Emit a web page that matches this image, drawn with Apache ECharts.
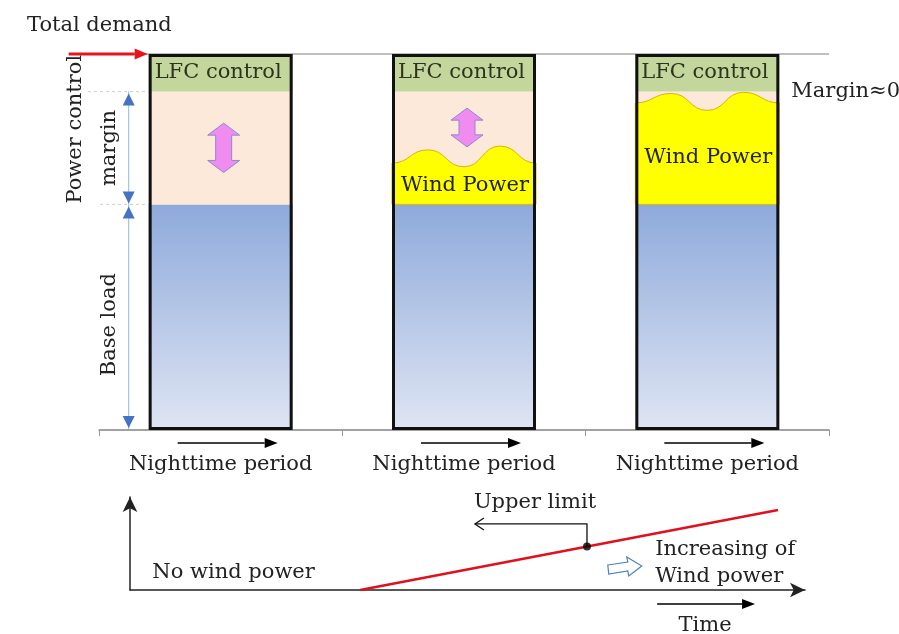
<!DOCTYPE html>
<html>
<head>
<meta charset="utf-8">
<title>Power control margin and wind power</title>
<script src="https://cdn.jsdelivr.net/npm/echarts@6/dist/echarts.min.js"></script>
<style>
  html, body { margin: 0; padding: 0; background: #fff; }
  #main { width: 899px; height: 634px; }
</style>
</head>
<body>
<div id="main"></div>
<script>
// three night periods, wind power growing from left to right
const periods = ['Nighttime period', 'Nighttime period', 'Nighttime period'];
// stacked parts of each bar (% of total demand)
const baseLoad = [60, 60, 60];
const controlMargin = [30, 30, 30];
const lfcControl = [10, 10, 10];
const totalDemand = [100, 100, 100];
// top edge of wind power block, sampled evenly across the bar (null = no wind)
const windTop = [
  null,
  [71, 74.5, 70, 75.5, 71],
  [87, 89.5, 85, 89.8, 87]
];
// pink double arrow = remaining margin (low / high end)
const marginLow = [68.5, 75.3, null];
const marginHigh = [81.6, 85.6, null];
// lower panel: upper limit rising with wind power
const limitLine = [[34.1, 0], [96, 86]];
const limitPoint = [[67.7, 46.7]];

const FONT = 'DejaVu Serif';
const BAR_W = 144;
const TXT = '#222';

const chart = echarts.init(document.getElementById('main'));

function renderWind(params, api) {
  const i = params.dataIndex;
  const wave = windTop[i];
  if (!wave) return;
  const cx = api.coord([i, 0])[0];
  const left = cx - BAR_W / 2, right = cx + BAR_W / 2;
  const baseY = api.coord([i, baseLoad[i]])[1];
  const pts = wave.map((v, k) => [left + (right - left) * k / (wave.length - 1), api.coord([i, v])[1]]);
  let d = 'M' + left + ',' + baseY + ' L' + pts[0][0] + ',' + pts[0][1];
  for (let k = 1; k < pts.length; k++) {
    const a = pts[k - 1], b = pts[k], mx = (a[0] + b[0]) / 2;
    d += ' C' + mx + ',' + a[1] + ' ' + mx + ',' + b[1] + ' ' + b[0] + ',' + b[1];
  }
  d += ' L' + right + ',' + baseY + ' Z';
  // label sits halfway between base load and the lowest point of the wave
  const labelY = api.coord([i, (baseLoad[i] + Math.min.apply(null, wave)) / 2])[1];
  return {
    type: 'group',
    children: [
      { type: 'path', shape: { pathData: d }, style: { fill: '#ffff00', stroke: '#d9b310', lineWidth: 1 } },
      { type: 'text', style: { text: 'Wind Power', x: left + 9, y: labelY, verticalAlign: 'middle',
          fontFamily: FONT, fontSize: 21, fill: TXT } }
    ]
  };
}

function renderMarginArrow(params, api) {
  const i = params.dataIndex;
  if (marginLow[i] == null) return;
  const x = api.coord([i, 0])[0] + 3;
  const yt = api.coord([i, marginHigh[i]])[1];
  const yb = api.coord([i, marginLow[i]])[1];
  const hw = 16, sw = 8, hl = 12;
  return {
    type: 'polygon',
    shape: { points: [
      [x, yt], [x + hw, yt + hl], [x + sw, yt + hl], [x + sw, yb - hl], [x + hw, yb - hl],
      [x, yb], [x - hw, yb - hl], [x - sw, yb - hl], [x - sw, yt + hl], [x - hw, yt + hl]
    ] },
    style: { fill: '#f08cf0', stroke: '#8a8ad0', lineWidth: 1 }
  };
}

const option = {
  animation: false,
  grid: [
    { left: 99, right: 70, top: 54, bottom: 204 },
    { left: 130, right: 94, top: 497, bottom: 44 }
  ],
  xAxis: [
    {
      type: 'category', gridIndex: 0, data: periods,
      axisLine: { lineStyle: { color: '#999', width: 1.5 } },
      axisTick: { show: true, length: 6, lineStyle: { color: '#999' } },
      axisLabel: { margin: 24, fontFamily: FONT, fontSize: 21, color: TXT }
    },
    {
      type: 'value', gridIndex: 1, min: 0, max: 100,
      axisLine: { show: true, symbol: ['none', 'arrow'], symbolSize: [11, 15],
        lineStyle: { color: '#222', width: 1.5 } },
      axisTick: { show: false }, axisLabel: { show: false }, splitLine: { show: false }
    }
  ],
  yAxis: [
    {
      type: 'value', gridIndex: 0, min: 0, max: 100, interval: 100,
      axisLine: { show: false }, axisTick: { show: false }, axisLabel: { show: false },
      splitLine: { lineStyle: { color: '#aaa', width: 1.5 } }
    },
    {
      type: 'value', gridIndex: 1, min: 0, max: 100,
      axisLine: { show: true, symbol: ['none', 'arrow'], symbolSize: [11, 15],
        lineStyle: { color: '#222', width: 1.5 } },
      axisTick: { show: false }, axisLabel: { show: false }, splitLine: { show: false }
    }
  ],
  series: [
    {
      name: 'Base load', type: 'bar', stack: 'demand', barWidth: BAR_W, data: baseLoad,
      itemStyle: { color: new echarts.graphic.LinearGradient(0, 0, 0, 1, [
        { offset: 0, color: '#8eaadb' }, { offset: 1, color: '#dfe5f3' }]) }
    },
    {
      name: 'Power control margin', type: 'bar', stack: 'demand', barWidth: BAR_W, data: controlMargin,
      itemStyle: { color: '#fde9d9' }
    },
    {
      name: 'LFC control', type: 'bar', stack: 'demand', barWidth: BAR_W, data: lfcControl,
      itemStyle: { color: '#c3d69b' },
      label: { show: true, position: 'insideLeft', distance: 6, formatter: 'LFC control',
        fontFamily: FONT, fontSize: 21, color: '#2e3320' }
    },
    {
      name: 'Wind Power', type: 'custom', renderItem: renderWind, z: 3,
      data: periods.map((p, i) => [i])
    },
    {
      name: 'Margin', type: 'custom', renderItem: renderMarginArrow, z: 4,
      data: periods.map((p, i) => [i])
    },
    {
      name: 'Total demand', type: 'bar', barGap: '-100%', barWidth: BAR_W, data: totalDemand, z: 6,
      itemStyle: { color: 'rgba(0,0,0,0)', borderColor: '#111', borderWidth: 3 }
    },
    {
      name: 'Upper limit', type: 'line', xAxisIndex: 1, yAxisIndex: 1, data: limitLine,
      symbol: 'none', lineStyle: { color: '#e0101e', width: 2.5 }
    },
    {
      name: 'Limit point', type: 'scatter', xAxisIndex: 1, yAxisIndex: 1, data: limitPoint,
      symbolSize: 8, itemStyle: { color: '#000' }, z: 5
    }
  ]
};
chart.setOption(option);

// annotations placed through the axes' scales
const P0 = (c, v) => chart.convertToPixel({ gridIndex: 0 }, [c, v]);
const P1 = (x, y) => chart.convertToPixel({ gridIndex: 1 }, [x, y]);

function arrow(x1, y1, x2, y2, color, width, hl, hw) {
  const ang = Math.atan2(y2 - y1, x2 - x1);
  const bx = x2 - hl * Math.cos(ang), by = y2 - hl * Math.sin(ang);
  const nx = -Math.sin(ang) * hw, ny = Math.cos(ang) * hw;
  return [
    { type: 'line', shape: { x1: x1, y1: y1, x2: bx, y2: by }, style: { stroke: color, lineWidth: width } },
    { type: 'polygon', shape: { points: [[x2, y2], [bx + nx, by + ny], [bx - nx, by - ny]] }, style: { fill: color } }
  ];
}
function text(str, x, y, align, extra) {
  return Object.assign({ type: 'text', x: x, y: y,
    style: { text: str, align: align || 'left', verticalAlign: 'middle', fontFamily: FONT, fontSize: 21, fill: TXT } }, extra || {});
}
function tri(x, y, up) {
  const h = up ? 12 : -12;
  return { type: 'polygon', shape: { points: [[x, y], [x - 6, y + h], [x + 6, y + h]] }, style: { fill: '#4472c4' } };
}

const g = [];
const y100 = P0(0, 100)[1], y90 = P0(0, 90)[1], y60 = P0(0, 60)[1], y0 = P0(0, 0)[1];
const bar1Left = P0(0, 0)[0] - BAR_W / 2;

g.push(text('Total demand', 27, y100 - 28));
g.push.apply(g, arrow(bar1Left - 80, y100, bar1Left - 1, y100, '#e8141c', 3, 13, 5.5));

g.push({ type: 'line', shape: { x1: 88, y1: y90, x2: bar1Left, y2: y90 }, style: { stroke: '#cfcfcf', lineWidth: 1, lineDash: [3, 3] } });
g.push({ type: 'line', shape: { x1: 100, y1: y60, x2: bar1Left, y2: y60 }, style: { stroke: '#cfcfcf', lineWidth: 1, lineDash: [3, 3] } });

const dimX = bar1Left - 20;
g.push({ type: 'line', shape: { x1: dimX, y1: y90, x2: dimX, y2: y60 }, style: { stroke: '#9dc3e6', lineWidth: 1.2 } });
g.push({ type: 'line', shape: { x1: dimX, y1: y60, x2: dimX, y2: y0 }, style: { stroke: '#9dc3e6', lineWidth: 1.2 } });
g.push(tri(dimX, y90 + 2, true), tri(dimX, y60 - 1, false), tri(dimX, y60 + 2, true), tri(dimX, y0 - 2, false));

g.push(text('Power control', 76, P0(0, 80)[1], 'center', { rotation: Math.PI / 2 }));
g.push(text('margin', 110, P0(0, 75)[1], 'center', { rotation: Math.PI / 2 }));
g.push(text('Base load', 110, P0(0, 28)[1], 'center', { rotation: Math.PI / 2 }));

g.push(text('Margin\u22480', P0(2, 0)[0] + BAR_W / 2 + 12, P0(2, 90)[1]));

periods.forEach((p, i) => {
  const cx = P0(i, 0)[0];
  g.push.apply(g, arrow(cx - 43, y0 + 13, cx + 57, y0 + 13, '#000', 1.5, 13, 5));
});

// lower panel
const pt = P1(limitPoint[0][0], limitPoint[0][1]);
const br = P1(limitPoint[0][0], 71);
const brEnd = P1(51.1, 71);
g.push({ type: 'polyline', shape: { points: [pt, br, brEnd] }, style: { stroke: '#111', lineWidth: 1.3, fill: null } });
g.push({ type: 'polyline', shape: { points: [[brEnd[0] + 9, brEnd[1] - 6], brEnd, [brEnd[0] + 9, brEnd[1] + 6]] },
  style: { stroke: '#111', lineWidth: 1.3, fill: null } });
const ul = P1(60, 93.5);
g.push(text('Upper limit', ul[0], ul[1], 'center'));
const nw = P1(3.3, 18.3);
g.push(text('No wind power', nw[0], nw[1]));
const ba = P1(73.3, 24.7);
g.push({ type: 'polygon', shape: { points: [
  [ba[0] - 17, ba[1] - 2], [ba[0] + 3, ba[1] - 5], [ba[0] + 2, ba[1] - 10], [ba[0] + 17, ba[1] - 1],
  [ba[0] + 4, ba[1] + 9], [ba[0] + 3, ba[1] + 4], [ba[0] - 16, ba[1] + 7]
] }, style: { fill: '#fff', stroke: '#4f81bd', lineWidth: 1.2 } });
const inc = P1(77.8, 44);
g.push(text('Increasing of', inc[0], inc[1]));
const wp = P1(77.8, 14);
g.push(text('Wind power', wp[0], wp[1]));
const t1 = P1(78.1, -15), t2 = P1(92.6, -15);
g.push.apply(g, arrow(t1[0], t1[1], t2[0], t2[1], '#000', 1.5, 13, 5));
const tm = P1(85.2, -38.7);
g.push(text('Time', tm[0], tm[1], 'center'));

chart.setOption({ graphic: { elements: g } });
</script>
</body>
</html>
